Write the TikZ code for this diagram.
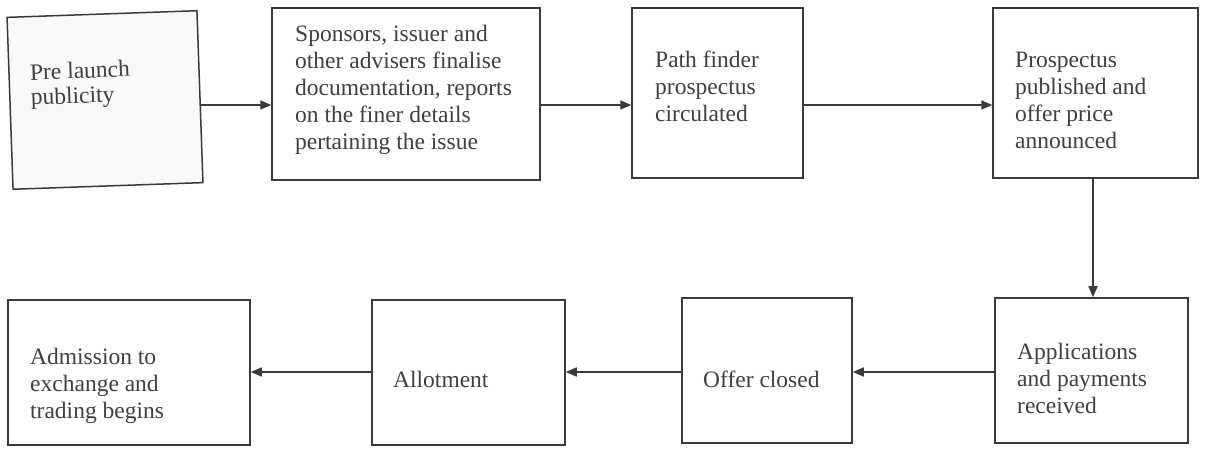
\documentclass[tikz,border=0pt]{standalone}
\usepackage{fontspec}
\setmainfont{Liberation Serif}
\usetikzlibrary{arrows.meta}
\definecolor{ink}{HTML}{3A3A3A}
\definecolor{txt}{HTML}{404040}
\begin{document}
\begin{tikzpicture}[x=1pt,y=1pt,
  lbl/.style={text=txt,font=\fontsize{23.5}{27}\selectfont,align=left,inner sep=0pt,anchor=base west},
  box/.style={draw=ink,line width=1.5pt,rectangle,inner sep=0pt},
  arr/.style={draw=ink,line width=1.5pt,-{Triangle[length=11pt,width=9pt]}}]
\useasboundingbox (0,0) rectangle (1209,449);
\fill[white] (0,0) rectangle (1209,449);
% top row boxes
\node[box,fill=gray!5,rotate=2,minimum width=190pt,minimum height=172pt] (b1) at (105,349) {};
\node[box,minimum width=268pt,minimum height=172pt] (b2) at (406,355) {};
\node[box,minimum width=171pt,minimum height=170pt] (b3) at (717.5,356) {};
\node[box,minimum width=205pt,minimum height=170pt] (b4) at (1095.5,356) {};
% bottom row boxes
\node[box,minimum width=242pt,minimum height=145pt] (b5) at (129,76.5) {};
\node[box,minimum width=193pt,minimum height=145pt] (b6) at (468.5,76.5) {};
\node[box,minimum width=170pt,minimum height=145pt] (b7) at (767,78.5) {};
\node[box,minimum width=193pt,minimum height=145pt] (b8) at (1091.5,78.5) {};
% texts (anchored at the baseline of their last line)
\node[lbl,rotate=2,font=\fontsize{23.5}{25}\selectfont] (t1) at (31,344) {Pre launch\\publicity};
\node[lbl] (t2) at (295,299) {Sponsors, issuer and\\other advisers finalise\\documentation, reports\\on the finer details\\pertaining the issue};
\node[lbl] (t3) at (655,327) {Path finder\\prospectus\\circulated};
\node[lbl] (t4) at (1015,300) {Prospectus\\published and\\offer price\\announced};
\node[lbl] (t5) at (30,30) {Admission to\\exchange and\\trading begins};
\node[lbl] (t6) at (393,61) {Allotment};
\node[lbl] (t7) at (703,61) {Offer closed};
\node[lbl] (t8) at (1017,35) {Applications\\and payments\\received};
% connectors
\coordinate (ytop) at (0,344);
\coordinate (ybot) at (0,77);
\coordinate (xdown) at (1093,0);
\draw[arr] (b1.east |- ytop) -- (b2.west |- ytop);
\draw[arr] (b2.east |- ytop) -- (b3.west |- ytop);
\draw[arr] (b3.east |- ytop) -- (b4.west |- ytop);
\draw[arr] (b4.south -| xdown) -- (b8.north -| xdown);
\draw[arr] (b8.west |- ybot) -- (b7.east |- ybot);
\draw[arr] (b7.west |- ybot) -- (b6.east |- ybot);
\draw[arr] (b6.west |- ybot) -- (b5.east |- ybot);
\end{tikzpicture}
\end{document}
